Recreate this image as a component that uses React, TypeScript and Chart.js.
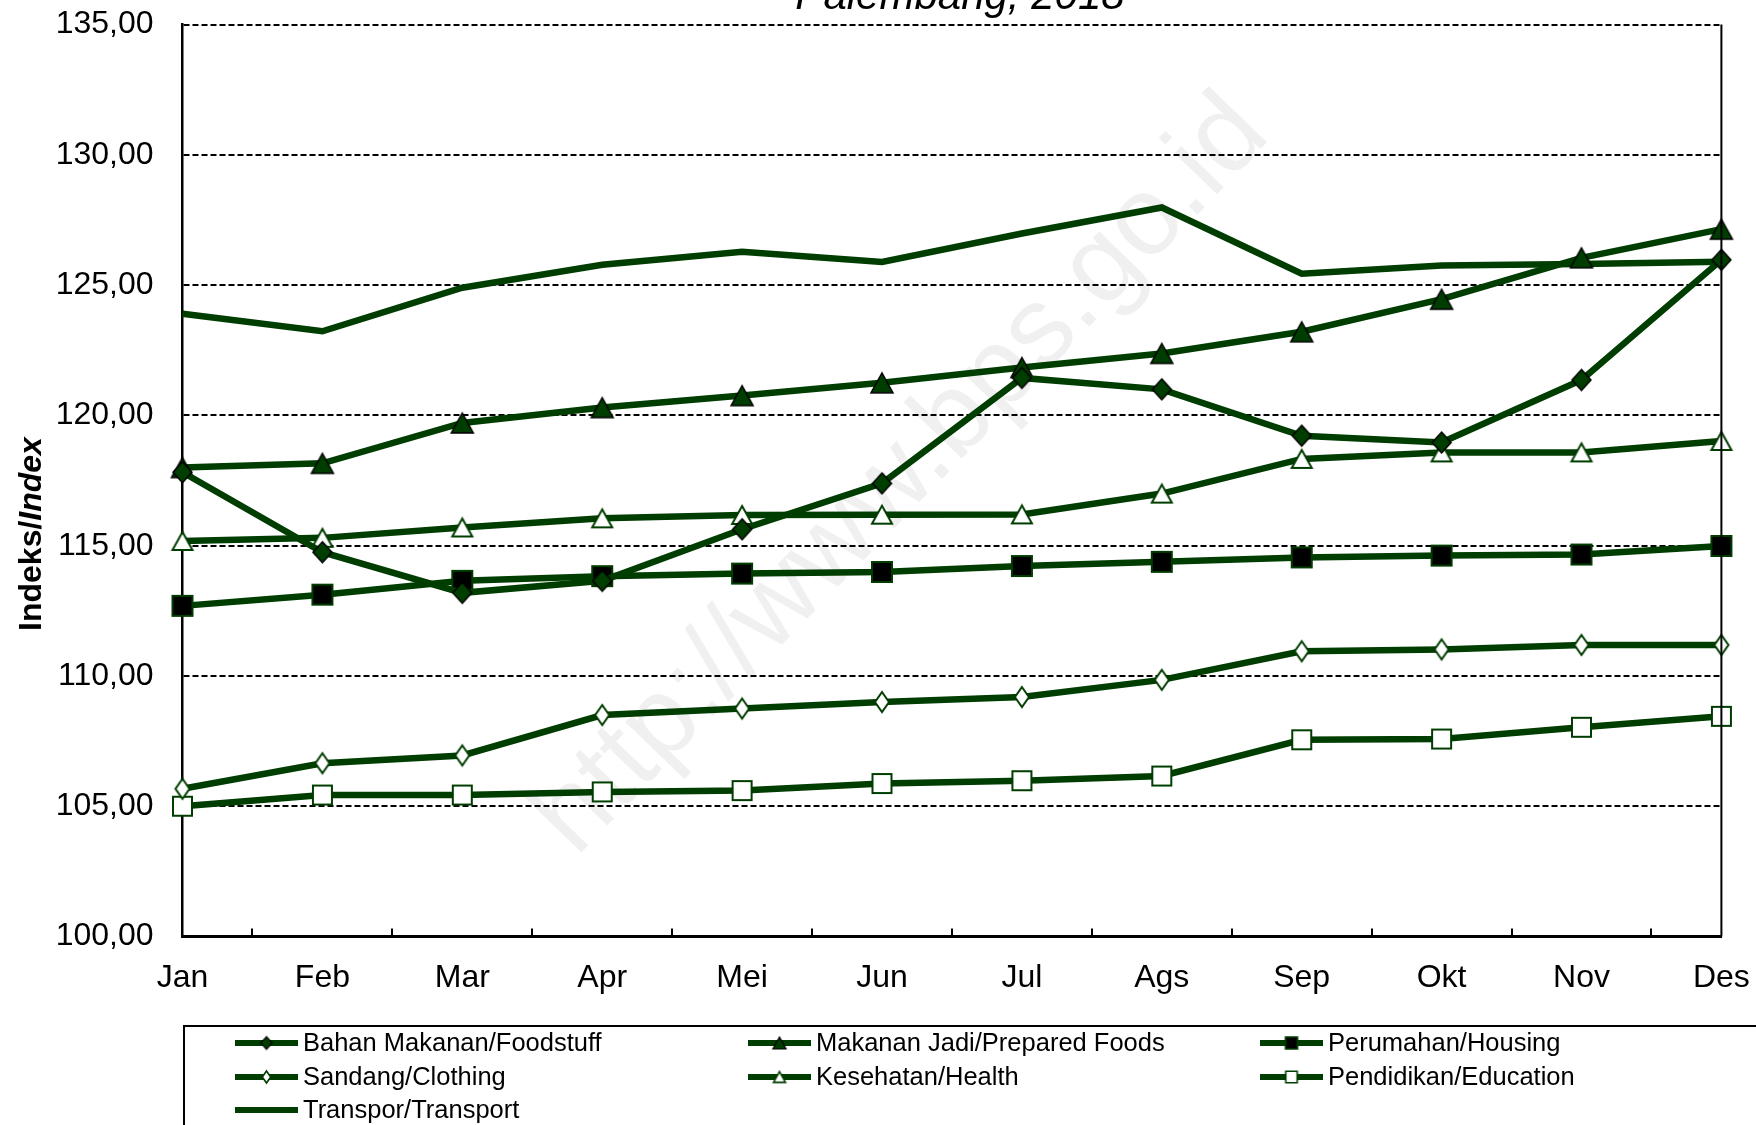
import React, { useEffect, useRef } from 'react';
import { Chart, registerables } from 'chart.js';

Chart.register(...registerables);

const W = 1756;
const H = 1125;
const GREEN = '#003d00';
const FONT = '"Liberation Sans", Arial, sans-serif';

const months = ['Jan', 'Feb', 'Mar', 'Apr', 'Mei', 'Jun', 'Jul', 'Ags', 'Sep', 'Okt', 'Nov', 'Des'];

const bahanMakanan = [117.82, 114.75, 113.19, 113.65, 115.63, 117.39, 121.44, 121.0, 119.22, 118.96, 121.36, 125.97];
const makananJadi = [118.0, 118.16, 119.71, 120.3, 120.76, 121.25, 121.84, 122.38, 123.21, 124.46, 126.05, 127.15];
const perumahan = [112.69, 113.12, 113.65, 113.83, 113.93, 113.99, 114.22, 114.38, 114.55, 114.62, 114.66, 114.99];
const sandang = [105.67, 106.65, 106.95, 108.5, 108.75, 109.0, 109.19, 109.85, 110.95, 111.02, 111.19, 111.19];
const kesehatan = [115.18, 115.3, 115.7, 116.05, 116.18, 116.19, 116.2, 117.0, 118.33, 118.58, 118.58, 119.02];
const pendidikan = [105.0, 105.43, 105.43, 105.55, 105.6, 105.87, 105.98, 106.16, 107.55, 107.58, 108.03, 108.45];
const transpor = [123.9, 123.23, 124.9, 125.78, 126.28, 125.89, 126.98, 127.98, 125.44, 125.75, 125.81, 125.9];

const seriesLabels = [
  'Bahan Makanan/Foodstuff',
  'Makanan Jadi/Prepared Foods',
  'Perumahan/Housing',
  'Sandang/Clothing',
  'Kesehatan/Health',
  'Pendidikan/Education',
  'Transpor/Transport',
];

const yMin = 100;
const yMax = 135;
const yStep = 5;

const titleText = 'Palembang, 2018';
const yTitleBold = 'Indeks/';
const yTitleItalic = 'Index';
const watermark = 'http://www.bps.go.id';

type Shape = 'diamond' | 'triangle' | 'square' | null;
interface MarkerSpec { shape: Shape; fill: string; stroke: string; w: number; h: number; lw: number; }

const markerSpecs: MarkerSpec[] = [
  { shape: 'diamond', fill: GREEN, stroke: '#000', w: 19, h: 21, lw: 1.5 },
  { shape: 'triangle', fill: GREEN, stroke: '#000', w: 22, h: 20, lw: 1.5 },
  { shape: 'square', fill: '#000', stroke: GREEN, w: 20, h: 20, lw: 2 },
  { shape: 'diamond', fill: '#fff', stroke: GREEN, w: 14, h: 20, lw: 2 },
  { shape: 'triangle', fill: '#fff', stroke: GREEN, w: 20, h: 18, lw: 2 },
  { shape: 'square', fill: '#fff', stroke: GREEN, w: 19, h: 19, lw: 2 },
  { shape: null, fill: GREEN, stroke: GREEN, w: 0, h: 0, lw: 0 },
];

function makeMarker(spec: MarkerSpec, scale: number): HTMLCanvasElement | null {
  if (!spec.shape) return null;
  const w = spec.w * scale;
  const h = spec.h * scale;
  const lw = Math.max(1, spec.lw * (scale < 1 ? 0.8 : 1));
  const pad = Math.ceil(lw) + 1;
  const c = document.createElement('canvas');
  c.width = Math.ceil(w + pad * 2);
  c.height = Math.ceil(h + pad * 2);
  const ctx = c.getContext('2d')!;
  const ox = (c.width - w) / 2;
  const oy = (c.height - h) / 2;
  ctx.translate(ox, oy);
  ctx.beginPath();
  if (spec.shape === 'diamond') {
    ctx.moveTo(w / 2, 0);
    ctx.lineTo(w, h / 2);
    ctx.lineTo(w / 2, h);
    ctx.lineTo(0, h / 2);
    ctx.closePath();
  } else if (spec.shape === 'triangle') {
    ctx.moveTo(w / 2, 0);
    ctx.lineTo(w, h);
    ctx.lineTo(0, h);
    ctx.closePath();
  } else {
    ctx.rect(0, 0, w, h);
  }
  ctx.fillStyle = spec.fill;
  ctx.fill();
  ctx.lineWidth = lw;
  ctx.strokeStyle = spec.stroke;
  ctx.lineJoin = 'miter';
  ctx.stroke();
  return c;
}

const fmt = (v: number) => v.toFixed(2).replace('.', ',');

export default function App() {
  const ref = useRef<HTMLCanvasElement | null>(null);

  useEffect(() => {
    document.body.style.margin = '0';
    const canvas = ref.current;
    if (!canvas) return;

    const seriesData = [bahanMakanan, makananJadi, perumahan, sandang, kesehatan, pendidikan, transpor];
    const bigMarkers = markerSpecs.map((s) => makeMarker(s, 1));
    const smallMarkers = markerSpecs.map((s) => makeMarker(s, 0.6));

    const datasets = seriesData.map((d, i) => ({
      label: seriesLabels[i],
      data: d,
      borderColor: GREEN,
      backgroundColor: GREEN,
      borderWidth: 6.5,
      tension: 0,
      clip: false as any,
      pointStyle: (bigMarkers[i] || 'circle') as any,
      pointRadius: bigMarkers[i] ? 10 : 0,
      pointHoverRadius: bigMarkers[i] ? 10 : 0,
    }));

    const extras = {
      id: 'extras',
      beforeDatasetsDraw(chart: any) {
        const ctx = chart.ctx as CanvasRenderingContext2D;
        const a = chart.chartArea;
        ctx.save();
        ctx.beginPath();
        ctx.rect(a.left, a.top, a.right - a.left, a.bottom - a.top);
        ctx.clip();
        ctx.translate(902, 476);
        ctx.rotate((-46 * Math.PI) / 180);
        ctx.font = `112px ${FONT}`;
        ctx.fillStyle = 'rgba(0,0,0,0.06)';
        ctx.textAlign = 'center';
        ctx.textBaseline = 'middle';
        ctx.fillText(watermark, 0, 0);
        ctx.restore();
      },
      afterDraw(chart: any) {
        const ctx = chart.ctx as CanvasRenderingContext2D;
        const a = chart.chartArea;
        const xs = chart.scales.x;
        ctx.save();
        // right border
        ctx.strokeStyle = '#000';
        ctx.lineWidth = 2;
        ctx.beginPath();
        ctx.moveTo(a.right, a.top);
        ctx.lineTo(a.right, a.bottom);
        ctx.stroke();
        // category mid ticks
        ctx.lineWidth = 2;
        for (let i = 0; i < months.length - 1; i++) {
          const x = Math.round((xs.getPixelForValue(i) + xs.getPixelForValue(i + 1)) / 2);
          ctx.beginPath();
          ctx.moveTo(x, a.bottom);
          ctx.lineTo(x, a.bottom - 8);
          ctx.stroke();
        }
        // title (clipped at top)
        ctx.fillStyle = '#000';
        ctx.font = `italic 42px ${FONT}`;
        ctx.textAlign = 'center';
        ctx.textBaseline = 'alphabetic';
        ctx.fillText(titleText, 960, 9);
        // y axis title
        ctx.save();
        ctx.translate(41, 534);
        ctx.rotate(-Math.PI / 2);
        ctx.font = `bold 32px ${FONT}`;
        const w1 = ctx.measureText(yTitleBold).width;
        ctx.font = `italic bold 32px ${FONT}`;
        const w2 = ctx.measureText(yTitleItalic).width;
        const start = -(w1 + w2) / 2;
        ctx.textAlign = 'left';
        ctx.font = `bold 32px ${FONT}`;
        ctx.fillText(yTitleBold, start, 0);
        ctx.font = `italic bold 32px ${FONT}`;
        ctx.fillText(yTitleItalic, start + w1, 0);
        ctx.restore();
        // legend
        ctx.strokeStyle = '#000';
        ctx.lineWidth = 2;
        ctx.strokeRect(184, 1026, W - 184 + 20, 200);
        const colX = [235, 748, 1260];
        const rowY = [1043, 1077, 1110];
        ctx.font = `25.5px ${FONT}`;
        ctx.textBaseline = 'middle';
        ctx.textAlign = 'left';
        seriesLabels.forEach((lab, i) => {
          const cx = colX[i % 3];
          const cy = rowY[Math.floor(i / 3)];
          ctx.strokeStyle = GREEN;
          ctx.lineWidth = 6;
          ctx.beginPath();
          ctx.moveTo(cx, cy);
          ctx.lineTo(cx + 63, cy);
          ctx.stroke();
          const m = smallMarkers[i];
          if (m) ctx.drawImage(m, cx + 31.5 - m.width / 2, cy - m.height / 2);
          ctx.fillStyle = '#000';
          ctx.fillText(lab, cx + 68, cy + 1);
        });
        ctx.restore();
      },
    };

    const chart = new Chart(canvas, {
      type: 'line',
      data: { labels: months, datasets },
      options: {
        responsive: false,
        animation: false,
        devicePixelRatio: 1,
        layout: { padding: { top: 24.6, right: 34.6, bottom: 128.5, left: 0 } },
        plugins: { legend: { display: false }, title: { display: false }, tooltip: { enabled: false } },
        elements: { line: { borderJoinStyle: 'miter' } },
        scales: {
          x: {
            type: 'category',
            offset: false,
            grid: {
              display: true,
              drawOnChartArea: false,
              drawTicks: true,
              tickLength: 22,
              color: 'rgba(0,0,0,0)',
              tickColor: 'rgba(0,0,0,0)',
            },
            border: { display: true, color: '#000', width: 3 },
            ticks: { color: '#000', font: { family: FONT, size: 32 }, padding: 0, maxRotation: 0, autoSkip: false },
            afterFit: (s: any) => { s.height = 60; },
          },
          y: {
            min: yMin,
            max: yMax,
            grid: {
              drawTicks: true,
              tickLength: 29,
              tickColor: 'rgba(0,0,0,0)',
              lineWidth: 2,
              color: (c: any) => (c.tick && c.tick.value === yMin ? 'rgba(0,0,0,0)' : '#000'),
            },
            border: { display: true, color: '#000', width: 2.5, dash: [6, 3] },
            ticks: {
              stepSize: yStep,
              color: '#000',
              font: { family: FONT, size: 32 },
              padding: 0,
              callback: (v: any) => fmt(Number(v)),
            },
            afterFit: (s: any) => { s.width = 182.5; },
          },
        },
      },
      plugins: [extras],
    });

    return () => chart.destroy();
  }, []);

  return <canvas ref={ref} width={W} height={H} style={{ display: 'block', width: W, height: H }} />;
}
